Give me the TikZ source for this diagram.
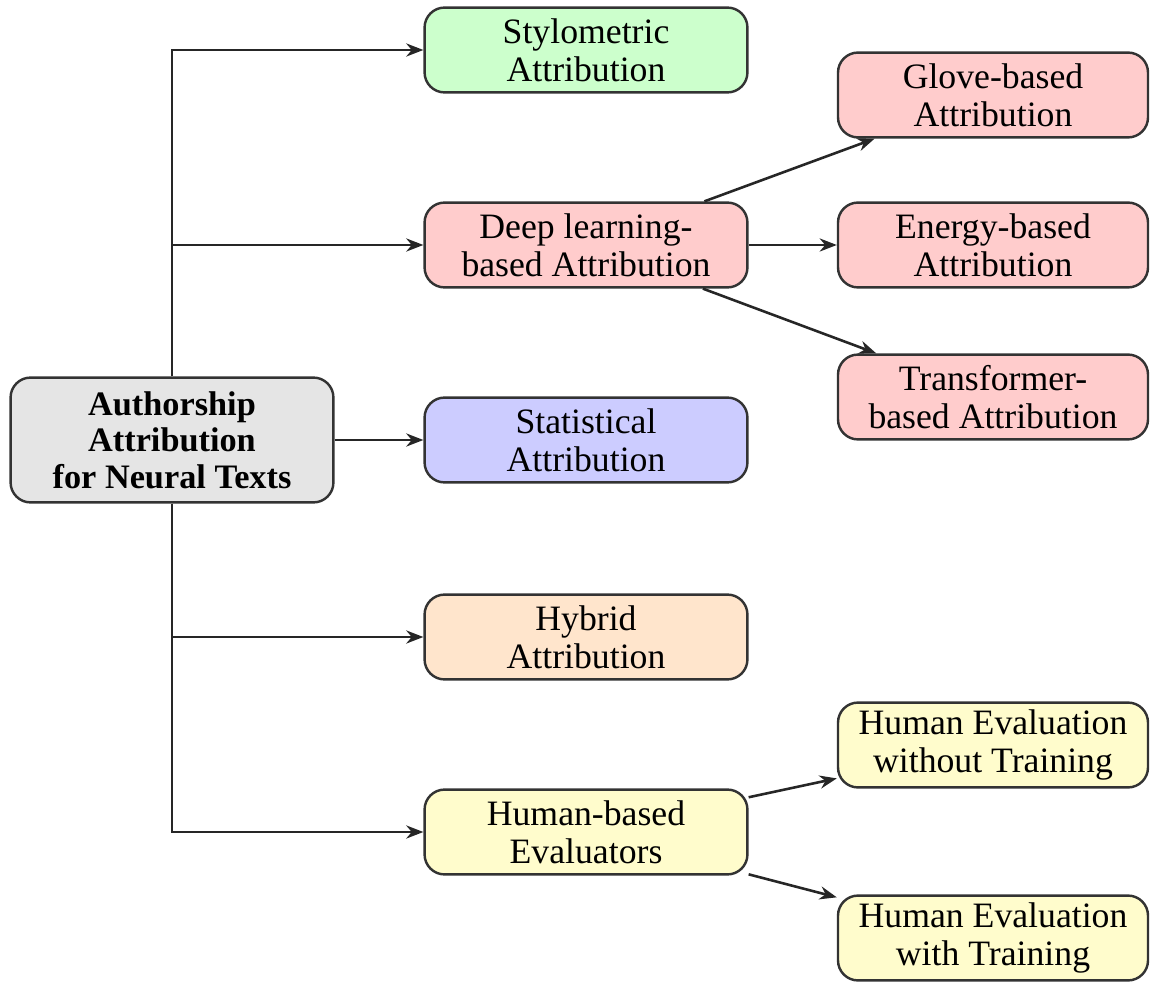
\documentclass[tikz,border=0pt]{standalone}
\usepackage{fontspec}
\setmainfont{Liberation Serif}
\usetikzlibrary{arrows.meta}
\begin{document}
\begin{tikzpicture}[x=0.35pt,y=-0.35pt,
  box/.style={draw=black!80, line width=0.85pt, rounded corners=7pt, align=center, inner sep=0pt, font=\fontsize{12.5}{13.4}\selectfont},
  lbox/.style={box, minimum width=113pt, minimum height=29.7pt},
  rbox/.style={box, minimum width=108.5pt, minimum height=29.7pt},
  rootbox/.style={box, fill=gray!20, minimum width=113pt, minimum height=43.7pt, font=\fontsize{12}{12.8}\selectfont\bfseries},
  conn/.style={draw=black!85, line width=0.9pt, -{Stealth[length=6pt,width=4.6pt]}}]
\useasboundingbox (0,0) rectangle (1151,989);

\node[rootbox] (root) at (172,440) {Authorship\\Attribution\\for Neural Texts};

\node[lbox, fill=green!20] (stylo) at (586,50) {Stylometric\\Attribution};
\node[lbox, fill=red!20] (deep) at (586,245) {Deep learning-\\based Attribution};
\node[lbox, fill=blue!20] (stat) at (586,440) {Statistical\\Attribution};
\node[lbox, fill=orange!20] (hybrid) at (586,637) {Hybrid\\Attribution};
\node[lbox, fill=yellow!20] (human) at (586,832) {Human-based\\Evaluators};

\node[rbox, fill=red!20] (glove) at (993,95) {Glove-based\\Attribution};
\node[rbox, fill=red!20] (energy) at (993,245) {Energy-based\\Attribution};
\node[rbox, fill=red!20] (trans) at (993,397) {Transformer-\\based Attribution};
\node[rbox, fill=yellow!20] (hewo) at (993,745) {Human Evaluation\\without Training};
\node[rbox, fill=yellow!20] (hew) at (993,938) {Human Evaluation\\with Training};

\draw[conn] (root.north) |- (stylo.west);
\draw[conn] (root.north) |- (deep.west);
\draw[conn] (root) -- (stat);
\draw[conn] (root.south) |- (hybrid.west);
\draw[conn] (root.south) |- (human.west);

\draw[conn] (deep) -- (glove);
\draw[conn] (deep) -- (energy);
\draw[conn] (deep) -- (trans);
\draw[conn] (human) -- (hewo);
\draw[conn] (human) -- (hew);
\end{tikzpicture}
\end{document}
